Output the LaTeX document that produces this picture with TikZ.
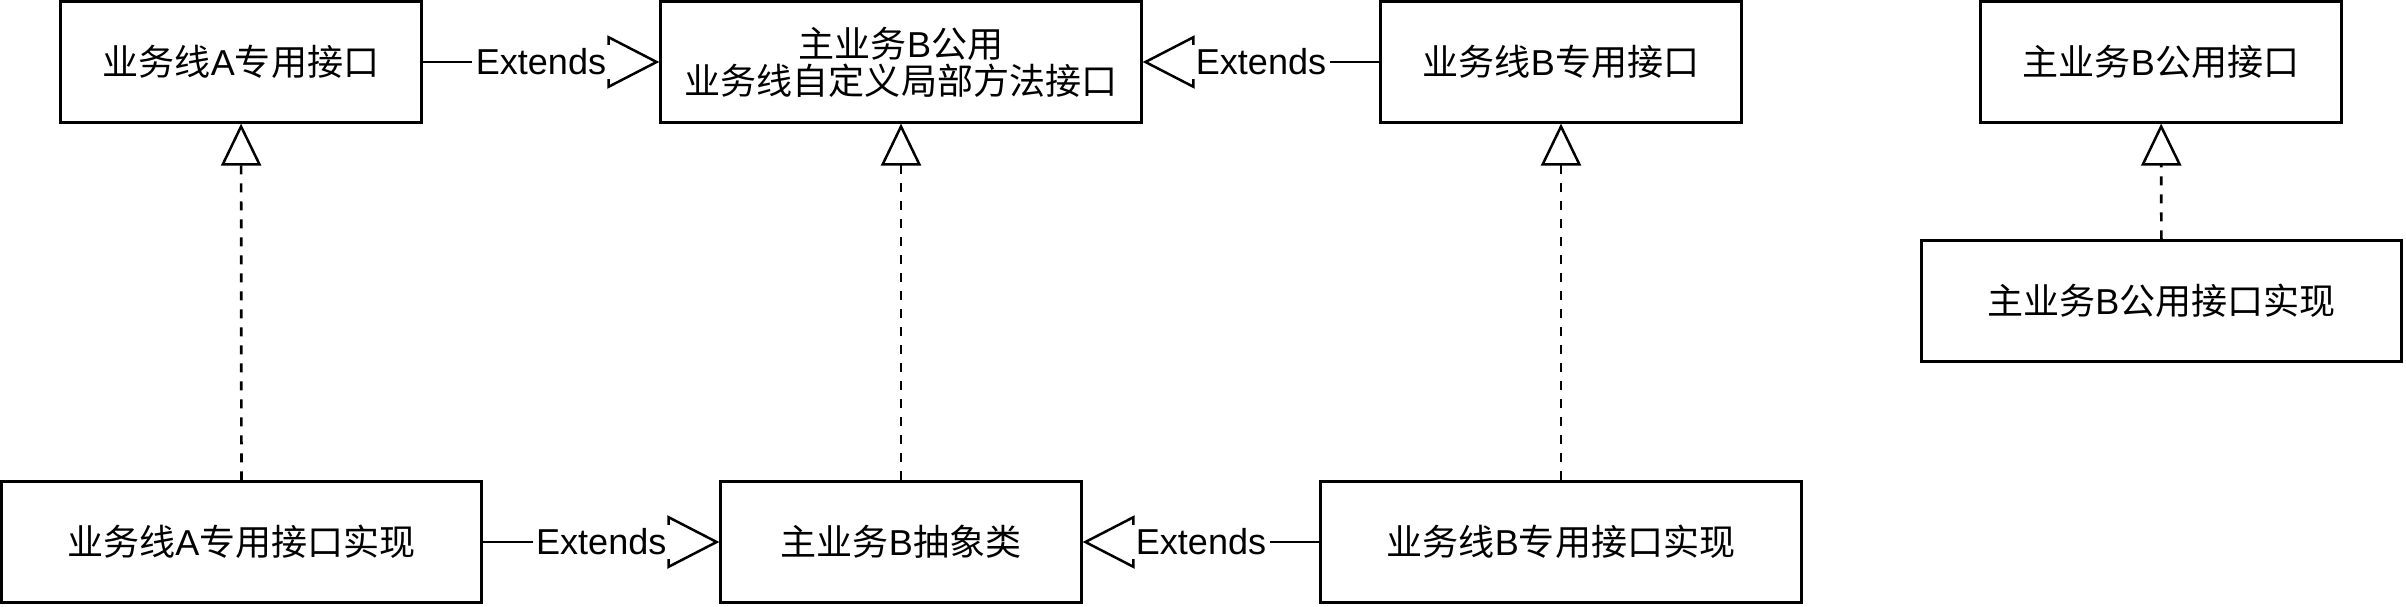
\documentclass[tikz,border=0pt]{standalone}
\usepackage{fontspec}
\setmainfont{Liberation Sans}
\newfontfamily\cjk{Noto Sans CJK SC}
\newcommand{\zh}[1]{{\cjk #1}}
\usetikzlibrary{arrows.meta}
\begin{document}
\begin{tikzpicture}[x=0.01cm,y=-0.01cm,
  txt/.style={font=\fontsize{10.25pt}{10.5pt}\selectfont},
  box/.style={draw,line width=0.03cm,minimum width=3.6cm,minimum height=1.2cm,inner sep=0pt,align=center,txt},
  wbox/.style={box,minimum width=4.8cm},
  ext/.style={line width=0.025cm,-{Triangle[open,length=0.52cm,width=0.53cm]}},
  impl/.style={line width=0.027cm,dash pattern=on 0.09cm off 0.09cm,-{Triangle[open,length=0.42cm,width=0.40cm,line width=0.025cm]}},
  lbl/.style={fill=white,inner sep=1pt,txt}
]
\useasboundingbox (0,0) rectangle (2406,606);
\node[box] (aif) at (241,62) {\zh{业务线}A\zh{专用接口}};
\node[box,minimum width=4.8cm] (main) at (901,62) {\zh{主业务}B\zh{公用}\\\zh{业务线自定义局部方法接口}};
\node[box] (bif) at (1561,62) {\zh{业务线}B\zh{专用接口}};
\node[box] (pif) at (2161,62) {\zh{主业务}B\zh{公用接口}};
\node[wbox] (pimpl) at (2161.5,301) {\zh{主业务}B\zh{公用接口实现}};
\node[wbox] (aimpl) at (241.5,542) {\zh{业务线}A\zh{专用接口实现}};
\node[box] (abs) at (901,542) {\zh{主业务}B\zh{抽象类}};
\node[wbox] (bimpl) at (1561,542) {\zh{业务线}B\zh{专用接口实现}};
\draw[ext] (aif) -- node[lbl] {Extends} (main);
\draw[ext] (bif) -- node[lbl] {Extends} (main);
\draw[ext] (aimpl) -- node[lbl] {Extends} (abs);
\draw[ext] (bimpl) -- node[lbl] {Extends} (abs);
\draw[impl] (aimpl) -- (aif);
\draw[impl] (abs) -- (main);
\draw[impl] (bimpl) -- (bif);
\draw[impl] (pimpl) -- (pif);
\end{tikzpicture}
\end{document}
